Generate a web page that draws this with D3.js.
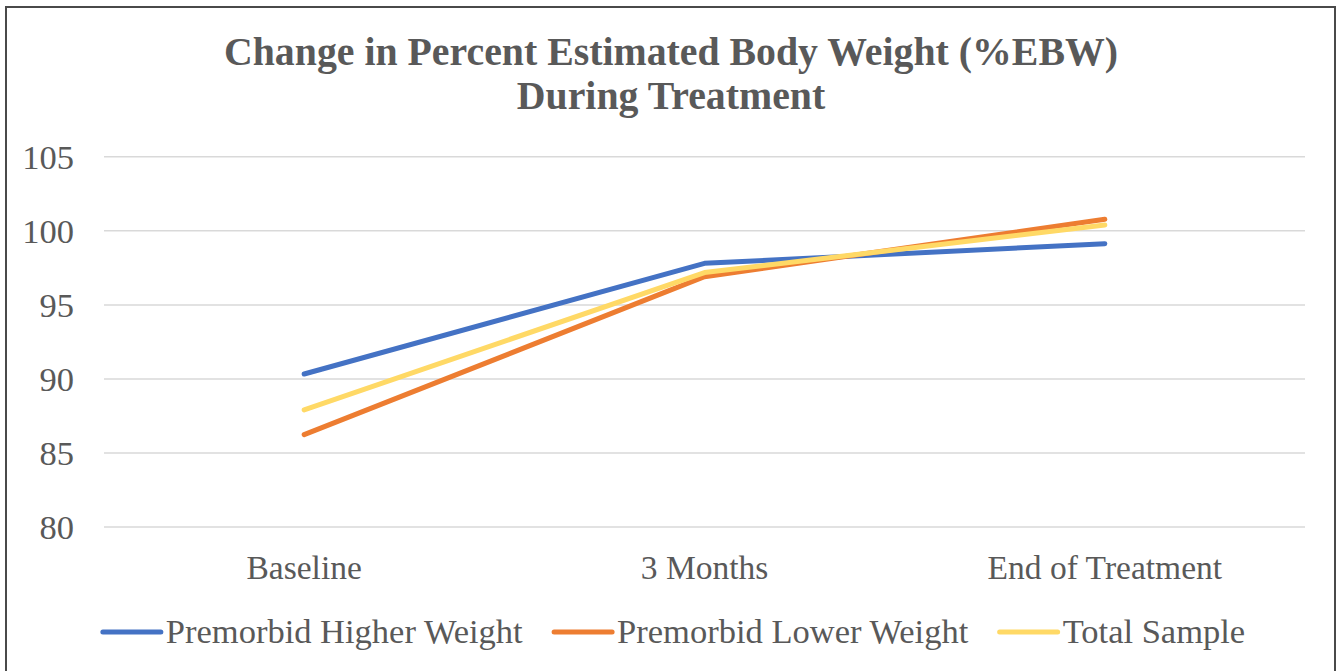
<!DOCTYPE html>
<html>
<head>
<meta charset="utf-8">
<script src="https://cdn.jsdelivr.net/npm/d3@7/dist/d3.min.js"></script>
<style>
html,body{margin:0;padding:0;background:#fff;}
svg{display:block;}
</style>
</head>
<body>
<svg id="chart" width="1343" height="671"></svg>
<script>
const categories = ["Baseline", "3 Months", "End of Treatment"];
const seriesNames = ["Premorbid Higher Weight", "Premorbid Lower Weight", "Total Sample"];
const higherWeight = [90.3, 97.77, 99.1];
const lowerWeight = [86.2, 96.87, 100.75];
const totalSample = [87.87, 97.15, 100.36];
const yTicks = [80, 85, 90, 95, 100, 105];
const colors = ["#4472C4", "#ED7D31", "#FFD966"];
const titleLines = ["Change in Percent Estimated Body Weight (%EBW)", "During Treatment"];

const series = [higherWeight, lowerWeight, totalSample].map((v, i) => ({name: seriesNames[i], values: v, color: colors[i]}));

const svg = d3.select("#chart");
const textColor = "#595959";
const font = "'Liberation Serif', 'Times New Roman', serif";

// border
svg.append("rect").attr("x", 6).attr("y", 7).attr("width", 1329).attr("height", 700)
  .attr("fill", "none").attr("stroke", "#4a4a4a").attr("stroke-width", 2);

const plot = {left: 104, right: 1305, top: 156.3, bottom: 526.5};

const x = d3.scaleBand().domain(categories).range([plot.left, plot.right]).paddingInner(0).paddingOuter(0);
const y = d3.scaleLinear().domain([80, 105]).range([plot.bottom, plot.top]);

// title
svg.append("g").selectAll("text").data(titleLines).join("text")
  .attr("x", 671).attr("y", (d, i) => 65 + i * 44)
  .attr("text-anchor", "middle")
  .attr("font-family", font).attr("font-weight", "bold").attr("font-size", 39.8)
  .attr("fill", textColor).text(d => d);

// gridlines + y axis
const yAxis = d3.axisLeft(y).tickValues(yTicks).tickSize(-(plot.right - plot.left)).tickPadding(30);
const gy = svg.append("g").attr("transform", `translate(${plot.left},0)`).call(yAxis);
gy.select(".domain").remove();
gy.selectAll(".tick line").attr("stroke", "#d9d9d9").attr("stroke-width", 1.5);
gy.selectAll(".tick text").attr("font-family", font).attr("font-size", 34.5).attr("fill", textColor)
  .attr("dy", "0.34em");

// x axis labels
const xAxis = d3.axisBottom(x).tickSize(0).tickPadding(0);
const gx = svg.append("g").attr("transform", `translate(0,${plot.bottom})`).call(xAxis);
gx.select(".domain").remove();
gx.selectAll(".tick text").attr("font-family", font).attr("font-size", 33.5).attr("fill", textColor)
  .attr("dy", 0).attr("y", 52);

// lines
const line = d3.line().x((d, i) => x(categories[i]) + x.bandwidth() / 2).y(d => y(d));
svg.append("g").selectAll("path").data(series).join("path")
  .attr("d", d => line(d.values))
  .attr("fill", "none").attr("stroke", d => d.color).attr("stroke-width", 5)
  .attr("stroke-linecap", "round").attr("stroke-linejoin", "round");

// legend
const legend = svg.append("g");
const items = legend.selectAll("g").data(series).join("g");
items.append("line").attr("x1", 0).attr("x2", 58).attr("y1", 0).attr("y2", 0)
  .attr("stroke", d => d.color).attr("stroke-width", 5).attr("stroke-linecap", "round");
items.append("text").attr("x", 63).attr("y", 11)
  .attr("font-family", font).attr("font-size", 34.5).attr("fill", textColor).text(d => d.name);
let pos = 0; const gap = 31; const offsets = [];
items.each(function () {
  const w = this.getBBox().width;
  offsets.push(pos);
  pos += w + gap;
});
const total = pos - gap;
const start = 674 - total / 2;
items.attr("transform", (d, i) => `translate(${start + offsets[i]},632)`);
</script>
</body>
</html>
